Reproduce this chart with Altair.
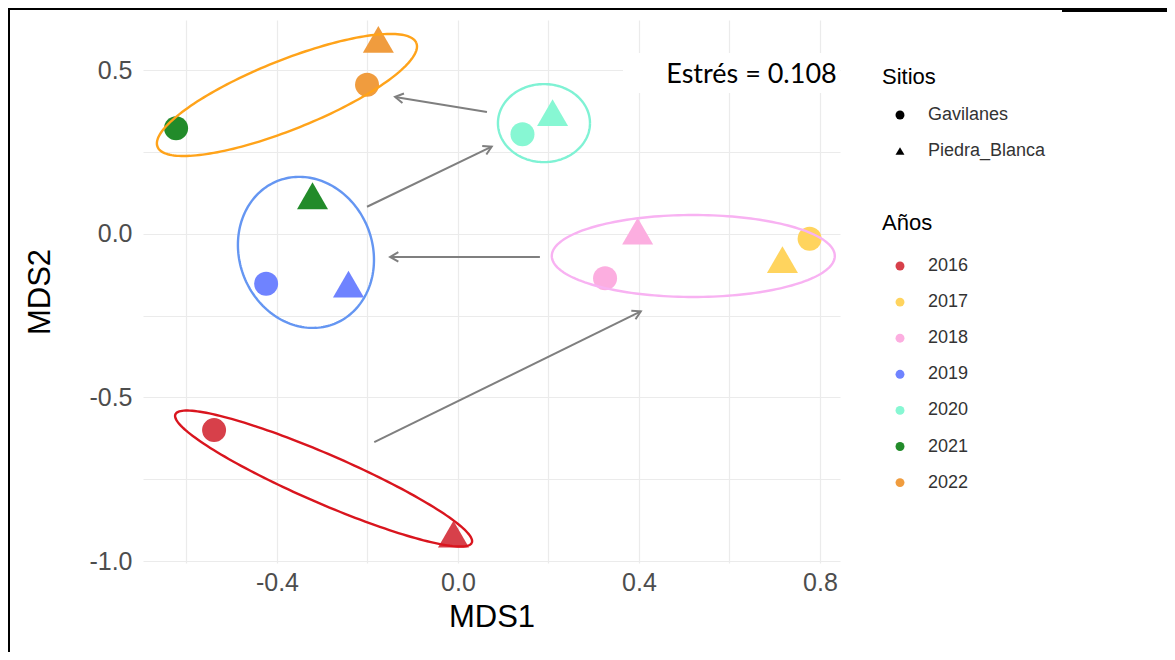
import altair as alt
import numpy as np
import pandas as pd

# ---- NMDS scores -------------------------------------------------------
years = ["2016", "2016", "2017", "2017", "2018", "2018", "2019", "2019",
         "2020", "2020", "2021", "2021", "2022", "2022"]
sites = ["Gavilanes", "Piedra_Blanca"] * 7
mds1 = [-0.539, -0.010, 0.777, 0.717, 0.325, 0.397, -0.424, -0.242,
        0.1425, 0.209, -0.623, -0.3215, -0.201, -0.176]
mds2 = [-0.600, -0.918, -0.015, -0.079, -0.136, 0.008, -0.153, -0.154,
        0.304, 0.370, 0.322, 0.116, 0.455, 0.594]

year_levels = ["2016", "2017", "2018", "2019", "2020", "2021", "2022"]
year_colors = ["#D7404A", "#FFD45E", "#FCAEE0", "#6F83FF", "#87F7D3", "#228B2A", "#F09C3E"]
site_levels = ["Gavilanes", "Piedra_Blanca"]
site_shapes = ["circle", "triangle-up"]

# ---- hand-drawn group ellipses: centre + two conjugate half-axes (data units)
ell_colors = ["#FFA31A", "#7FF2D4", "#6596F2", "#F8B2F2", "#D9151E"]
ell_cx = [-0.378, 0.190, -0.336, 0.520, -0.297]
ell_cy = [0.424, 0.338, -0.057, -0.068, -0.748]
ell_ux = [0.286, 0.1017, 0.0628, 0.3127, 0.3275]
ell_uy = [0.1586, 0.0, -0.2182, 0.0, -0.1962]
ell_vx = [0.0285, 0.0, 0.1366, 0.0, -0.0214]
ell_vy = [-0.0981, -0.1192, 0.0752, -0.1253, -0.0684]

# ---- arrows (start -> end) ----------------------------------------------
arrow_x1 = [0.064, -0.201, 0.181, -0.185]
arrow_y1 = [0.372, 0.0825, -0.071, -0.637]
arrow_x2 = [-0.139, 0.0745, -0.150, 0.404]
arrow_y2 = [0.418, 0.266, -0.071, -0.237]

# ---- stress annotation ---------------------------------------------------
stress_label = ["Estrés = 0.108"]
stress_x = [0.6486]
stress_y = [0.4595]
box_x1, box_x2, box_y1, box_y2 = [0.3646], [0.8442], [0.430], [0.552]

# ---- scales / layout -----------------------------------------------------
XDOM = [-0.6961, 0.8442]
YDOM = [-1.006, 0.653]
W, H = 697, 543
px_x = W / (XDOM[1] - XDOM[0])
px_y = H / (YDOM[1] - YDOM[0])

FONT = "Liberation Sans"

xax = alt.Axis(
    title="MDS1", values=[-0.6, -0.4, -0.2, 0, 0.2, 0.4, 0.6, 0.8],
    labelExpr="round(datum.value*10) % 4 == 0 ? replace(format(datum.value, '.1f'), '\u2212', '-') : ''",
    grid=True, domain=False, ticks=False, tickSize=0,
    labelFontSize=25, labelColor="#4D4D4D", labelPadding=7, labelFont=FONT,
    titleFontSize=31, titleFontWeight="normal", titleColor="black", titleFont=FONT, titlePadding=7,
    gridColor="#EBEBEB", gridWidth=1.2, labelFlush=False,
)
yax = alt.Axis(
    title="MDS2", values=[-1.0, -0.75, -0.5, -0.25, 0, 0.25, 0.5],
    labelExpr="round(datum.value*4) % 2 == 0 ? replace(format(datum.value, '.1f'), '\u2212', '-') : ''",
    grid=True, domain=False, ticks=False, tickSize=0,
    labelFontSize=25, labelColor="#4D4D4D", labelPadding=11, labelFont=FONT,
    titleFontSize=31, titleFontWeight="normal", titleColor="black", titleFont=FONT, titlePadding=32,
    gridColor="#EBEBEB", gridWidth=1.2, labelFlush=False,
)
xs = alt.Scale(domain=XDOM, nice=False, zero=False)
ys = alt.Scale(domain=YDOM, nice=False, zero=False)

pts = pd.DataFrame({"MDS1": mds1, "MDS2": mds2, "Año": years, "Sitio": sites})

color_enc = alt.Color("Año:N", scale=alt.Scale(domain=year_levels, range=year_colors),
                      legend=alt.Legend(title="Años", orient="none", legendX=739, legendY=193,
                                        titleFontSize=22, titleFont=FONT, titleFontWeight="normal",
                                        titleColor="black", titlePadding=22,
                                        labelFontSize=18, labelFont=FONT, labelColor="#333333",
                                        symbolType="circle", symbolSize=80, symbolStrokeWidth=0,
                                        symbolOpacity=1, rowPadding=18.1, symbolOffset=9, labelOffset=19,
                                        padding=0))
shape_enc = alt.Shape("Sitio:N", scale=alt.Scale(domain=site_levels, range=site_shapes),
                      legend=alt.Legend(title="Sitios", orient="none", legendX=739, legendY=47,
                                        titleFontSize=22, titleFont=FONT, titleFontWeight="normal",
                                        titleColor="black", titlePadding=17,
                                        labelFontSize=18, labelFont=FONT, labelColor="#333333",
                                        symbolSize=80, symbolFillColor="black", symbolStrokeColor="black",
                                        symbolStrokeWidth=0, symbolOpacity=1,
                                        rowPadding=18, symbolOffset=9, labelOffset=19, padding=0))

base_x = alt.X("MDS1:Q", scale=xs, axis=xax)
base_y = alt.Y("MDS2:Q", scale=ys, axis=yax)

circles = alt.Chart(pts[pts["Sitio"] == "Gavilanes"]).mark_point(
    filled=True, size=576, opacity=1, color="black"
).encode(x=base_x, y=base_y, color=color_enc, shape=shape_enc)
triangles = alt.Chart(pts[pts["Sitio"] == "Piedra_Blanca"]).mark_point(
    filled=True, size=961, opacity=1, color="black"
).encode(x=base_x, y=base_y, color=color_enc, shape=shape_enc)

# ellipse outlines
t = np.linspace(0, 2 * np.pi, 181)
ellipse_layers = []
for i, col in enumerate(ell_colors):
    df = pd.DataFrame({
        "MDS1": ell_cx[i] + ell_ux[i] * np.cos(t) + ell_vx[i] * np.sin(t),
        "MDS2": ell_cy[i] + ell_uy[i] * np.cos(t) + ell_vy[i] * np.sin(t),
        "k": np.arange(len(t)),
    })
    ellipse_layers.append(
        alt.Chart(df).mark_line(color=col, strokeWidth=2.4).encode(
            x=base_x, y=base_y, order="k:Q")
    )

arr = pd.DataFrame({"MDS1": arrow_x1, "MDS2": arrow_y1, "x2": arrow_x2, "y2": arrow_y2})
dxp = (np.array(arrow_x2) - np.array(arrow_x1)) * px_x
dyp = -(np.array(arrow_y2) - np.array(arrow_y1)) * px_y
arr["ang"] = np.mod(np.degrees(np.arctan2(dxp, -dyp)), 360)
arrow_lines = alt.Chart(arr).mark_rule(color="#7F7F7F", strokeWidth=2).encode(
    x=base_x, y=base_y, x2="x2:Q", y2="y2:Q")
heads = pd.DataFrame({"MDS1": arrow_x2, "MDS2": arrow_y2, "ang": arr["ang"]})
arrow_heads = alt.Chart(heads).mark_point(
    shape="M -0.55 0.95 L 0 0 L 0.55 0.95", size=300, filled=False,
    stroke="#7F7F7F", strokeWidth=2, opacity=1
).encode(x=base_x, y=base_y, angle=alt.Angle("ang:Q", scale=None))

box = pd.DataFrame({"MDS1": box_x1, "x2": box_x2, "MDS2": box_y1, "y2": box_y2})
box_layer = alt.Chart(box).mark_rect(color="white").encode(
    x=base_x, x2="x2:Q", y=base_y, y2="y2:Q")
stress = pd.DataFrame({"MDS1": stress_x, "MDS2": stress_y, "lab": stress_label})
stress_layer = alt.Chart(stress).mark_text(
    font="Lato", fontSize=27, color="black", align="center", baseline="alphabetic"
).encode(x=base_x, y=base_y, text="lab:N")

# ---- thin black frame of the original slide (decoration) -----------------
frame_top = alt.Chart(pts).mark_rule(color="black", strokeWidth=2).encode(
    x=alt.value(-135), x2=alt.value(919), y=alt.value(-11))
frame_top_thick = alt.Chart(pts).mark_rule(color="black", strokeWidth=3.5).encode(
    x=alt.value(919), x2=alt.value(1030), y=alt.value(-10.5))
frame_left = alt.Chart(pts).mark_rule(color="black", strokeWidth=2).encode(
    x=alt.value(-134), y=alt.value(-12), y2=alt.value(645))

chart = alt.layer(
    arrow_lines, arrow_heads, circles, triangles, *ellipse_layers, box_layer, stress_layer,
    frame_top, frame_top_thick, frame_left
).properties(
    width=W, height=H,
    autosize=alt.AutoSizeParams(type="none"),
    padding={"left": 135, "top": 12, "right": 327, "bottom": 89},
).configure(background="white").configure_view(stroke=None)

chart.save("out.html", embed_options={"renderer": "svg", "actions": False})
